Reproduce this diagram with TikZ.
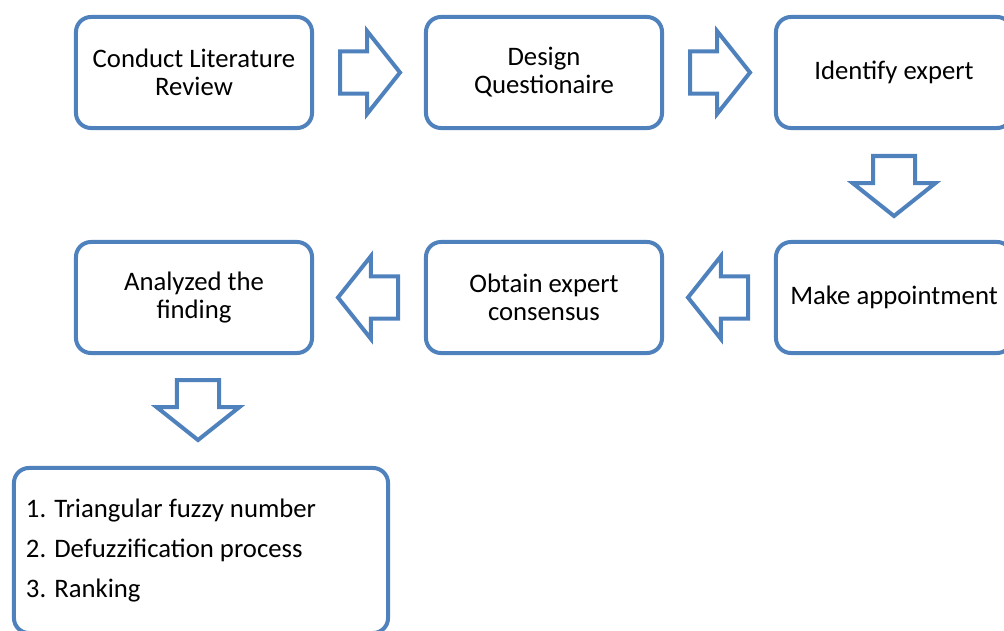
\documentclass[tikz,border=0pt]{standalone}
\usepackage{fontspec}
\setmainfont{Carlito}
\usetikzlibrary{shapes.arrows}
\definecolor{frameblue}{HTML}{4F81BD}
\tikzset{
  stage/.style={draw=frameblue,line width=0.1cm,rounded corners=0.375cm,minimum width=5.9cm,minimum height=2.775cm,align=center,font=\fontsize{19}{20}\selectfont},
  flowarrow/.style={single arrow,draw=frameblue,line width=0.1cm,inner xsep=0pt,inner ysep=0.475cm,single arrow head extend=0.51cm,single arrow tip angle=103,minimum height=1.5cm,anchor=tail},
  downarrow/.style={flowarrow,shape border rotate=270,inner xsep=0.475cm,inner ysep=0pt}
}
\begin{document}
\begin{tikzpicture}[x=0.025cm,y=-0.025cm]
      \useasboundingbox (0,0) rectangle (1004,630);

      % first row
      \node [stage] (review) at (194,72.5) {Conduct Literature\\Review};
      \node [stage] (design) at (544,72.5) {Design\\Questionaire};
      \node [stage] (identify) at (894,72.5) {Identify expert};

      % second row
      \node [stage] (analyze) at (194,297.5) {Analyzed the\\finding};
      \node [stage] (consensus) at (544,297.5) {Obtain expert\\consensus};
      \node [stage] (appoint) at (894,297.5) {Make appointment};

      % methods box
      \node [stage,minimum width=9.35cm,minimum height=4.125cm,inner xsep=0.3cm,text width=8.75cm,align=flush left,font=\fontsize{19}{28.4}\selectfont] (methods) at (201,550.5)
        {1. Triangular fuzzy number\\2. Defuzzification process\\3. Ranking};

      % block arrows
      \node [flowarrow] (a1) at (338,72.5) {};
      \node [flowarrow] (a2) at (688,72.5) {};
      \node [downarrow] (a3) at (894,154) {};
      \node [flowarrow,shape border rotate=180] (a4) at (750,297.5) {};
      \node [flowarrow,shape border rotate=180] (a5) at (400,297.5) {};
      \node [downarrow] (a6) at (198,378) {};

    \end{tikzpicture}
\end{document}
